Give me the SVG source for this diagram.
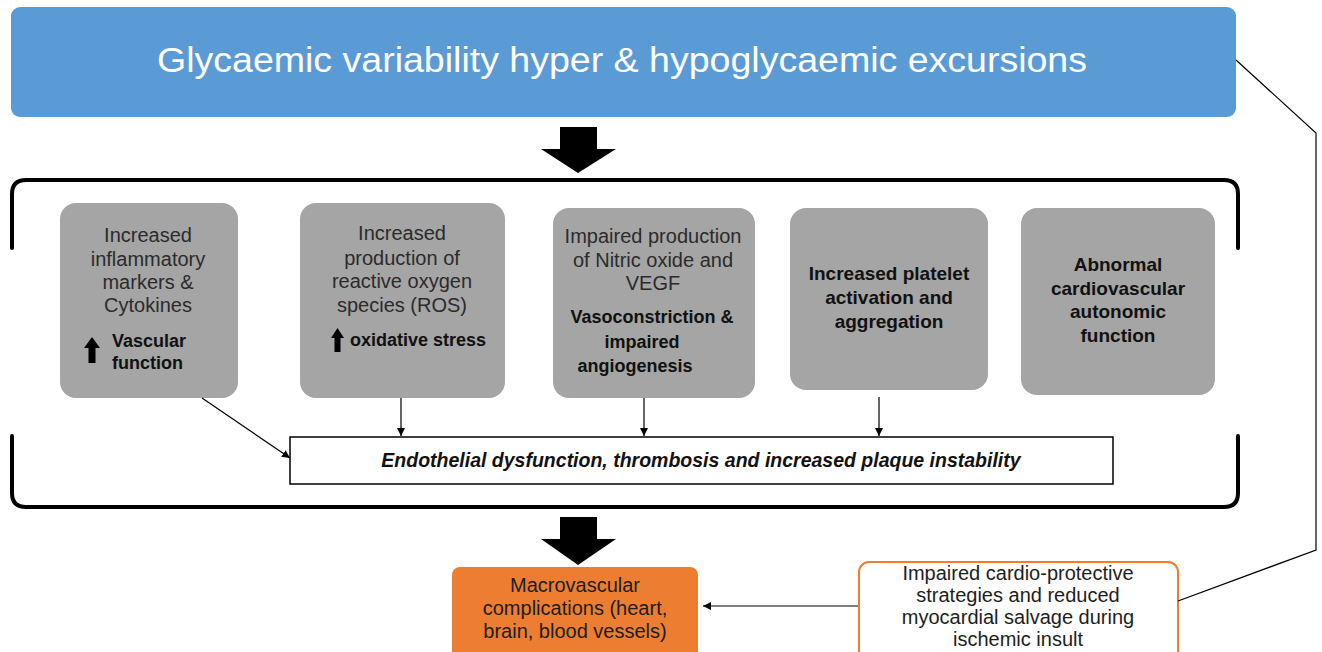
<svg xmlns="http://www.w3.org/2000/svg" width="1322" height="652" viewBox="0 0 1322 652">
  <defs>
    <marker id="tip" viewBox="0 0 10 10" refX="10" refY="5" markerWidth="8" markerHeight="8" markerUnits="userSpaceOnUse" orient="auto">
      <path d="M0,0 L10,5 L0,10 z" fill="#000"/>
    </marker>
    <style>
      text { font-family: "Liberation Sans", Arial, sans-serif; }
      .title { font-size: 35px; fill: #ffffff; text-anchor: middle; }
      .cause { fill: #a5a5a5; }
      .reg { font-size: 20px; fill: #2b2b2b; text-anchor: middle; }
      .bold { font-size: 18px; font-weight: bold; fill: #111111; }
      .big { font-size: 19px; }
      .mid { text-anchor: middle; }
      .dark { font-size: 20px; fill: #1e1e1e; text-anchor: middle; }
      .conn { fill: none; stroke: #000; stroke-width: 1.2; }
      .bracket { fill: none; stroke: #000; stroke-width: 4; stroke-linecap: round; }
      .bigarrow { fill: #000; }
      .uparrow { fill: #000; }
    </style>
  </defs>

  <!-- top banner -->
  <g id="glycaemic-variability">
    <rect x="11" y="7" width="1225" height="110" rx="9" fill="#5b9bd5"/>
    <text class="title" x="622" y="72" textLength="930" lengthAdjust="spacingAndGlyphs">Glycaemic variability hyper &amp; hypoglycaemic excursions</text>
  </g>

  <!-- block arrows -->
  <g id="block-arrows">
    <path class="bigarrow" d="M560,127 H597 V149 H616 L578,173 L541,149 H560 Z"/>
    <path class="bigarrow" d="M560,517 H597 V539 H616 L578,565 L541,539 H560 Z"/>
  </g>

  <!-- bracket framing the mechanisms -->
  <g id="mechanism-frame">
    <path class="bracket" d="M12,248 V194 Q12,180 26,180 H1224 Q1238,180 1238,194 V248"/>
    <path class="bracket" d="M12,436 V493 Q12,507 26,507 H1224 Q1238,507 1238,493 V436"/>
  </g>

  <!-- mechanism nodes -->
  <g id="inflammation">
    <rect class="cause" x="60" y="203" width="178" height="195" rx="16"/>
    <text class="reg" x="148" y="242">Increased</text>
    <text class="reg" x="148" y="266">inflammatory</text>
    <text class="reg" x="148" y="289">markers &amp;</text>
    <text class="reg" x="148" y="312">Cytokines</text>
    <path class="uparrow" d="M92,337 L100,348 H95.5 V363 H88.5 V348 H84 Z"/>
    <text class="bold" x="112" y="347">Vascular</text>
    <text class="bold" x="112" y="369">function</text>
  </g>

  <g id="oxidative-stress">
    <rect class="cause" x="300" y="203" width="205" height="195" rx="16"/>
    <text class="reg" x="402" y="240">Increased</text>
    <text class="reg" x="402" y="265">production of</text>
    <text class="reg" x="402" y="288">reactive oxygen</text>
    <text class="reg" x="402" y="312">species (ROS)</text>
    <path class="uparrow" d="M337.5,328 L344,338 H340.5 V352 H334.5 V338 H331 Z"/>
    <text class="bold" x="350" y="346">oxidative stress</text>
  </g>

  <g id="nitric-oxide">
    <rect class="cause" x="553" y="208" width="202" height="190" rx="16"/>
    <text class="reg" x="653" y="243">Impaired production</text>
    <text class="reg" x="653" y="267">of Nitric oxide and</text>
    <text class="reg" x="653" y="290">VEGF</text>
    <text class="bold mid" x="652" y="323">Vasoconstriction &amp;</text>
    <text class="bold mid" x="642" y="348">impaired</text>
    <text class="bold mid" x="635" y="372">angiogenesis</text>
  </g>

  <g id="platelets">
    <rect class="cause" x="790" y="208" width="198" height="182" rx="16"/>
    <text class="bold big mid" x="889" y="280">Increased platelet</text>
    <text class="bold big mid" x="889" y="304">activation and</text>
    <text class="bold big mid" x="889" y="328">aggregation</text>
  </g>

  <g id="autonomic">
    <rect class="cause" x="1021" y="208" width="194" height="187" rx="16"/>
    <text class="bold big mid" x="1118" y="271">Abnormal</text>
    <text class="bold big mid" x="1118" y="295">cardiovascular</text>
    <text class="bold big mid" x="1118" y="318">autonomic</text>
    <text class="bold big mid" x="1118" y="342">function</text>
  </g>

  <!-- shared outcome inside the frame -->
  <g id="endothelial-dysfunction">
    <rect x="290" y="437" width="823" height="47" fill="#ffffff" stroke="#000" stroke-width="1.5"/>
    <text x="701" y="467" text-anchor="middle" font-size="19.5" font-weight="bold" font-style="italic" fill="#111111">Endothelial dysfunction, thrombosis and increased plaque instability</text>
  </g>

  <!-- outcomes -->
  <g id="macrovascular">
    <rect x="452" y="567" width="246" height="100" rx="8" fill="#ed7d31"/>
    <text class="dark" x="575" y="592">Macrovascular</text>
    <text class="dark" x="575" y="615">complications (heart,</text>
    <text class="dark" x="575" y="638">brain, blood vessels)</text>
  </g>

  <g id="cardioprotection">
    <rect x="859" y="562" width="319" height="110" rx="10" fill="#ffffff" stroke="#ed7d31" stroke-width="2"/>
    <text class="dark" x="1018" y="580">Impaired cardio-protective</text>
    <text class="dark" x="1018" y="602">strategies and reduced</text>
    <text class="dark" x="1018" y="624">myocardial salvage during</text>
    <text class="dark" x="1018" y="646">ischemic insult</text>
  </g>

  <!-- connectors -->
  <g id="connectors">
    <line class="conn" x1="202" y1="398" x2="290" y2="458" marker-end="url(#tip)"/>
    <line class="conn" x1="401" y1="398" x2="401" y2="436" marker-end="url(#tip)"/>
    <line class="conn" x1="644" y1="398" x2="644" y2="436" marker-end="url(#tip)"/>
    <line class="conn" x1="879" y1="397" x2="879" y2="436" marker-end="url(#tip)"/>
    <line class="conn" x1="858" y1="606" x2="703" y2="606" marker-end="url(#tip)"/>
    <polyline class="conn" stroke="#333" points="1236,60 1316,133 1316,550 1178,601"/>
  </g>
</svg>
